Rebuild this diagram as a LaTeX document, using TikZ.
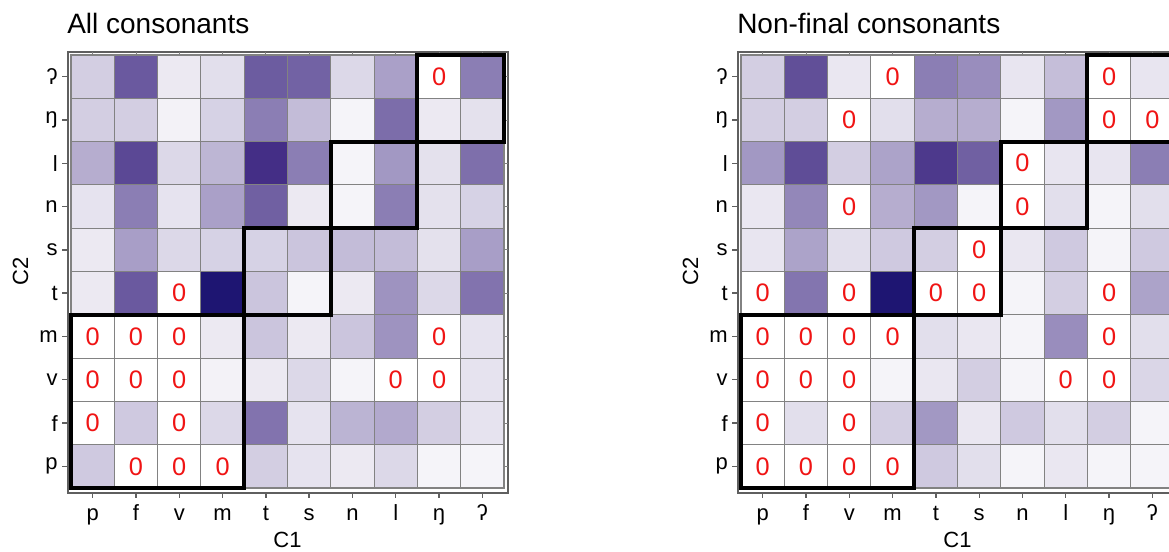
\documentclass[tikz,border=0pt]{standalone}
\usepackage{fontspec}
\setmainfont{Liberation Sans}

\definecolor{cellpurple}{RGB}{62,40,130}
\definecolor{cellnavy}{RGB}{30,21,114}
\definecolor{zerored}{RGB}{240,20,20}
\definecolor{framegray}{RGB}{95,95,95}
\definecolor{gridgray}{RGB}{130,130,130}

% one heat map panel: #1 x shift, #2 name prefix, #3 title, #4 rows (top to bottom)
\newcommand\heatpanel[4]{%
  \begin{scope}[shift={(#1,0)}]
    %Title
    \node[paneltitle] (#2-title) at (67,33) {#3};
    %Cells
    \foreach \row [count=\j] in {#4}{
      \foreach \v [count=\i] in \row{
        \ifnum\v=0 \def\cellfill{white}%
        \else\ifnum\v>100 \def\cellfill{cellnavy}%
        \else\edef\cellfill{cellpurple!\v!white}\fi\fi
        \filldraw[fill=\cellfill, draw=gridgray, line width=0.8pt]
          ({71+43.3*(\i-1)},{55+43.3*(\j-1)}) rectangle ++(43.3,43.3);
        \ifnum\v=0
          \node[zerolabel] (#2-z-\j-\i) at ({71+43.3*(\i-0.5)},{55+43.3*(\j-0.5)}) {0};
        \fi
      }
    }
    %Frame
    \draw[framegray, line width=1.5pt] (67.5,52) rectangle (507.5,492.5);
    %Axis C1
    \foreach \lab [count=\k] in {p,f,v,m,t,s,n,l,ŋ,ʔ}{
      \draw[framegray, line width=1pt] ({71+43.3*(\k-0.5)},492.5) -- ++(0,5);
      \draw[gridgray, line width=0.6pt] ({71+43.3*(\k-0.5)},52) -- ++(0,3);
      \node[ticklabel, anchor=base] (#2-x\k) at ({71+43.3*(\k-0.5)},520) {\lab};
    }
    %Axis C2
    \foreach \lab [count=\k] in {ʔ,ŋ,l,n,s,t,m,v,f,p}{
      \draw[framegray, line width=1pt] (67.5,{55+43.3*(\k-0.5)}) -- ++(-5.5,0);
      \draw[gridgray, line width=0.6pt] (507.5,{55+43.3*(\k-0.5)}) -- ++(-3,0);
      \node[ticklabel, anchor=east] (#2-y\k) at (58,{55+43.3*(\k-0.5)}) {\lab};
    }
    \node[ticklabel, anchor=base] (#2-c1) at (287.5,547) {C1};
    \node[ticklabel, anchor=base, rotate=90] (#2-c2) at (28,271.5) {C2};
    %Blocks
    \foreach \a/\b in {0/4,4/6,6/8,8/10}{
      \draw[blockline] ({71+43.3*\a},{55+43.3*(10-\b)}) rectangle ({71+43.3*\b},{55+43.3*(10-\a)});
    }
  \end{scope}
}

\begin{document}
\begin{tikzpicture}[x=0.75pt,y=-0.75pt,
    paneltitle/.style={anchor=base west, inner sep=0pt, font=\fontsize{21}{25}\selectfont},
    ticklabel/.style={inner sep=0pt, font=\fontsize{16.5}{19}\selectfont},
    zerolabel/.style={inner sep=0pt, text=zerored, font=\fontsize{19}{22}\selectfont},
    blockline/.style={draw=black, line width=3pt, line join=miter}]
  \useasboundingbox (0,0) rectangle (1169,551);

  %All consonants
  \heatpanel{0}{all}{All consonants}{
    {23,77,10,15,76,73,18,44,0,60},
    {23,23,6,21,60,31,5,68,10,14},
    {38,85,18,34,97,60,5,48,14,67},
    {13,60,13,44,74,10,5,60,14,21},
    {10,45,18,21,21,27,31,31,14,45},
    {10,77,0,200,27,5,10,50,18,65},
    {0,0,0,10,27,10,27,50,0,13},
    {0,0,0,6,10,18,5,0,0,13},
    {0,25,0,18,65,13,35,40,23,13},
    {25,0,0,0,23,13,10,18,5,5}}

  %Non-final consonants
  \heatpanel{670}{nonfinal}{Non-final consonants}{
    {23,82,11,0,60,53,12,30,0,12},
    {23,23,0,15,38,38,5,48,0,0},
    {48,83,23,43,92,74,0,12,12,60},
    {11,56,0,38,48,5,0,15,5,15},
    {12,43,15,25,23,0,11,25,5,25},
    {0,64,0,200,0,0,5,23,0,43},
    {0,0,0,0,15,11,5,53,0,15},
    {0,0,0,5,11,23,5,0,0,19},
    {0,15,0,23,48,11,25,15,23,5},
    {0,0,0,0,25,15,5,11,5,5}}
\end{tikzpicture}
\end{document}
